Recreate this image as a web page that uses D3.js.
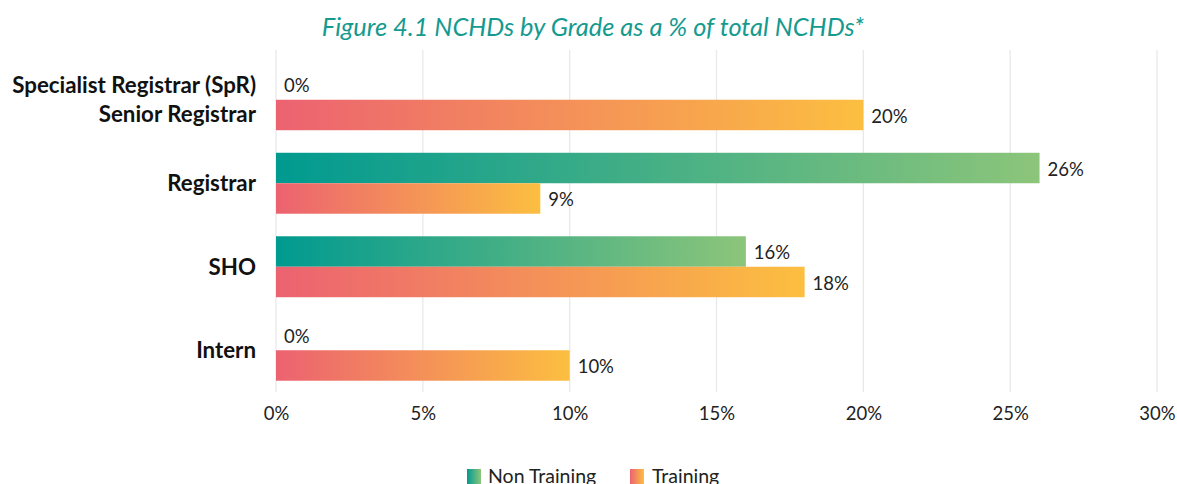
<!DOCTYPE html>
<html><head><meta charset="utf-8">
<script src="https://cdn.jsdelivr.net/npm/d3@7"></script>
<style>body{margin:0;background:#fff;} svg{display:block;font-family:Lato,"Open Sans",sans-serif;}</style>
</head><body>
<svg id="chart" width="1177" height="484"></svg>
<script>
const categories = [["Specialist Registrar (SpR)", "Senior Registrar"], ["Registrar"], ["SHO"], ["Intern"]];
const seriesNames = ["Non Training", "Training"];
const nonTraining = [0, 26, 16, 0];
const training = [20, 9, 18, 10];
const tickValues = [0, 5, 10, 15, 20, 25, 30];
const title = "Figure 4.1 NCHDs by Grade as a % of total NCHDs*";

const svg = d3.select("#chart");
const x = d3.scaleLinear().domain([0, 30]).range([276, 1157]);
const catKeys = categories.map(c => c.join(" "));
const y = d3.scaleBand().domain(catKeys).range([58, 392]).paddingInner(0.27).paddingOuter(0.135);
const y2 = d3.scaleBand().domain(seriesNames).range([0, y.bandwidth()]);

const defs = svg.append("defs");
const grads = [
  {id: "gNon", c0: "#009a90", c1: "#8cc57a"},
  {id: "gTr", c0: "#ec6271", c1: "#fcbf40"}
];
grads.forEach(g => {
  const lg = defs.append("linearGradient").attr("id", g.id).attr("x1", 0).attr("x2", 1).attr("y1", 0).attr("y2", 0);
  lg.append("stop").attr("offset", "0%").attr("stop-color", g.c0);
  lg.append("stop").attr("offset", "100%").attr("stop-color", g.c1);
});

// title
svg.append("text").attr("x", 593).attr("y", 36).attr("text-anchor", "middle")
  .attr("font-style", "italic").attr("font-size", 25.4).attr("fill", "#149a8f").text(title);

// gridlines
svg.append("g").selectAll("line").data(tickValues).join("line")
  .attr("x1", d => x(d)).attr("x2", d => x(d)).attr("y1", 50).attr("y2", 392)
  .attr("stroke", "#e8e9ec").attr("stroke-width", 1.3);

// x axis labels
const xAxis = d3.axisBottom(x).tickValues(tickValues).tickFormat(d => d + "%").tickSize(0).tickPadding(0);
const gx = svg.append("g").attr("transform", "translate(0,407)").call(xAxis);
gx.select(".domain").remove();
gx.selectAll("text").attr("font-size", 18.5).attr("fill", "#222").attr("font-family", "Lato,sans-serif");

// category labels
const gy = svg.append("g");
categories.forEach((lines, i) => {
  const cy = y(catKeys[i]) + y.bandwidth() / 2;
  const t = gy.append("text").attr("x", 256).attr("text-anchor", "end")
    .attr("font-weight", "bold").attr("font-size", 22.3).attr("fill", "#111");
  const n = lines.length, lh = 29;
  lines.forEach((l, j) => {
    t.append("tspan").attr("x", 256).attr("y", cy + (j - (n - 1) / 2) * lh).attr("dy", "0.35em").text(l);
  });
});

// bars
const seriesData = [nonTraining, training];
seriesData.forEach((vals, si) => {
  const g = svg.append("g");
  g.selectAll("rect").data(vals).join("rect")
    .attr("x", x(0))
    .attr("y", (d, i) => y(catKeys[i]) + y2(seriesNames[si]))
    .attr("width", d => x(d) - x(0))
    .attr("height", y2.bandwidth())
    .attr("fill", `url(#${grads[si].id})`);
  g.selectAll("text").data(vals).join("text")
    .attr("x", d => x(d) + 8)
    .attr("y", (d, i) => y(catKeys[i]) + y2(seriesNames[si]) + y2.bandwidth() / 2 + 1.5)
    .attr("dy", "0.35em").attr("font-size", 18.5).attr("fill", "#222")
    .text(d => d + "%");
});

// legend
const legendItems = [{name: "Non Training", sx: 467, tx: 488, g: "gNon"}, {name: "Training", sx: 630, tx: 652, g: "gTr"}];
legendItems.forEach(it => {
  svg.append("rect").attr("x", it.sx).attr("y", 469).attr("width", 14).attr("height", 15).attr("fill", `url(#${it.g})`);
  svg.append("text").attr("x", it.tx).attr("y", 476).attr("dy", "0.35em").attr("font-size", 19.5).attr("fill", "#222").text(it.name);
});
</script>
</body></html>
